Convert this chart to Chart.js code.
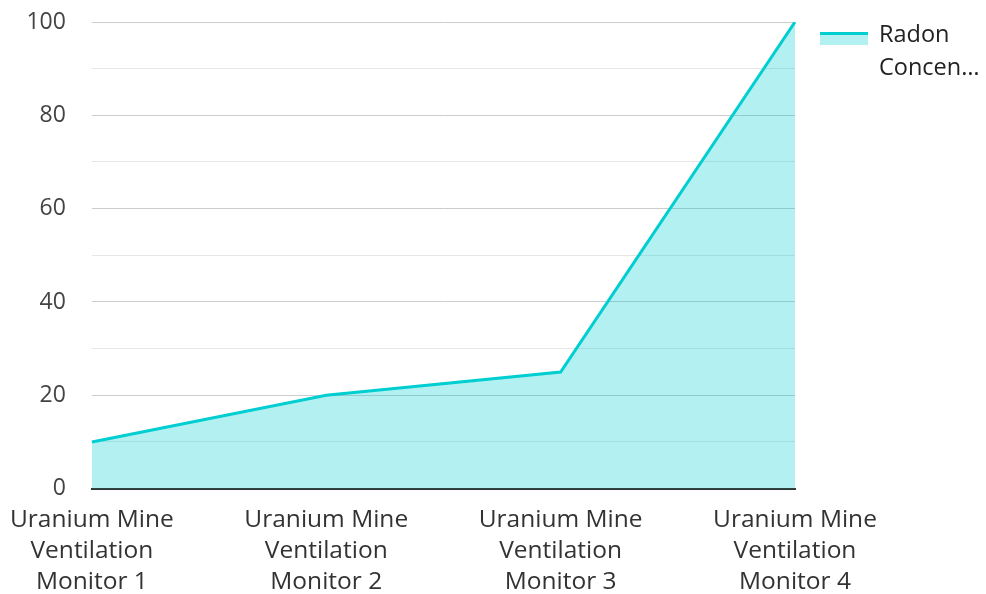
<!DOCTYPE html>
<html>
<head>
<meta charset="utf-8">
<script src="https://cdn.jsdelivr.net/npm/chart.js@4/dist/chart.umd.min.js"></script>
<style>
  html, body { margin: 0; padding: 0; background: #ffffff; }
  #wrap { width: 986px; height: 594px; position: relative; }
</style>
</head>
<body>
<div id="wrap"><canvas id="chart"></canvas></div>
<script>
// Monitoring stations along the x axis (each label wraps onto three lines)
const categories = [
  ['Uranium Mine', 'Ventilation', 'Monitor 1'],
  ['Uranium Mine', 'Ventilation', 'Monitor 2'],
  ['Uranium Mine', 'Ventilation', 'Monitor 3'],
  ['Uranium Mine', 'Ventilation', 'Monitor 4']
];
const seriesName = 'Radon Concentration';
const radonValues = [10, 20, 25, 100];
const yTickLabels = [0, 20, 40, 60, 80, 100];

const lineColor = 'rgb(0,206,209)';
const fillColor = 'rgba(0,206,209,0.30)';
const FONT = '"Open Sans", "Noto Sans", sans-serif';

// Legend drawn at the right: a line swatch over a filled band, label wrapped to two lines and ellipsized
const sideLegend = {
  id: 'sideLegend',
  afterDraw(chart) {
    const ctx = chart.ctx;
    const ds = chart.data.datasets[0];
    const x0 = 820, w = 48, y0 = 33;
    ctx.save();
    ctx.fillStyle = ds.backgroundColor;
    ctx.fillRect(x0, y0 + 2, w, 10);
    ctx.strokeStyle = ds.borderColor;
    ctx.lineWidth = 3;
    ctx.beginPath();
    ctx.moveTo(x0, y0 + 0.5);
    ctx.lineTo(x0 + w, y0 + 0.5);
    ctx.stroke();

    ctx.font = '23.5px ' + FONT;
    ctx.fillStyle = '#222222';
    ctx.textBaseline = 'alphabetic';
    const maxW = 986 - 879 - 2;
    const words = ds.label.split(' ');
    const lines = [];
    let cur = '';
    for (const wd of words) {
      const t = cur ? cur + ' ' + wd : wd;
      if (ctx.measureText(t).width > maxW && cur) { lines.push(cur); cur = wd; }
      else cur = t;
    }
    if (cur) lines.push(cur);
    const shown = lines.slice(0, 2).map(s => {
      if (ctx.measureText(s).width <= maxW) return s;
      let r = s;
      while (r.length > 1 && ctx.measureText(r + '…').width > maxW) r = r.slice(0, -1);
      return r + '…';
    });
    shown.forEach((s, i) => ctx.fillText(s, 879, 42 + i * 33));
    ctx.restore();
  }
};

new Chart(document.getElementById('chart'), {
  type: 'line',
  data: {
    labels: categories,
    datasets: [{
      label: seriesName,
      data: radonValues,
      borderColor: lineColor,
      backgroundColor: fillColor,
      borderWidth: 3,
      fill: 'origin',
      pointRadius: 0,
      pointHoverRadius: 0,
      tension: 0
    }]
  },
  options: {
    responsive: true,
    maintainAspectRatio: false,
    animation: false,
    layout: { padding: { left: 4, right: 191, top: 22, bottom: 0 } },
    plugins: {
      legend: { display: false },
      tooltip: { enabled: false }
    },
    scales: {
      x: {
        offset: false,
        grid: { display: false, drawTicks: true, tickLength: 6, tickColor: 'rgba(0,0,0,0)' },
        border: { display: true, color: '#333333', width: 2 },
        ticks: {
          color: '#333333',
          font: { family: FONT, size: 24.5, lineHeight: 1.27 },
          padding: 10,
          maxRotation: 0,
          autoSkip: false
        },
        // let the last label line run to the canvas edge
        afterFit: s => { s.height -= 14; }
      },
      y: {
        min: 0,
        max: 100,
        grid: {
          drawTicks: true,
          tickLength: 23,
          tickColor: 'rgba(0,0,0,0)',
          lineWidth: 1,
          color: c => (c.tick && c.tick.value % 20 === 0) ? '#cccccc' : '#e6e6e6'
        },
        border: { display: false },
        ticks: {
          stepSize: 10,
          color: '#444444',
          font: { family: FONT, size: 23 },
          padding: 3,
          callback: v => yTickLabels.includes(v) ? String(v) : ''
        }
      }
    }
  },
  plugins: [sideLegend]
});
</script>
</body>
</html>
